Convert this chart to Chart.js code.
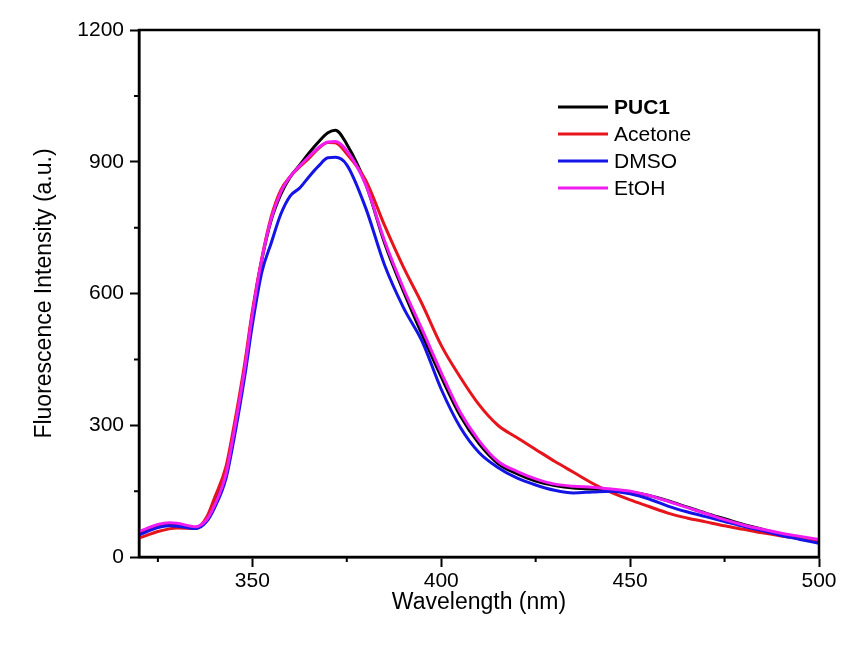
<!DOCTYPE html>
<html>
<head>
<meta charset="utf-8">
<script src="https://cdn.jsdelivr.net/npm/chart.js@4"></script>
<style>
  body { margin: 0; background: #fff; }
  #wrap { width: 847px; height: 651px; }
</style>
</head>
<body>
<div id="wrap"><canvas id="myChart" width="847" height="651"></canvas></div>
<script>
// wavelength (nm) shared by all spectra
const wavelength = [320, 325, 328, 330, 335, 338, 340, 343, 345, 348, 350, 352.5, 355, 357.5, 360, 362.5, 365, 367.5, 370, 372, 375, 380, 385, 390, 395, 400, 405, 410, 415, 420, 425, 430, 435, 440, 445, 450, 455, 460, 465, 470, 475, 480, 485, 490, 495, 500];

const puc1 = [55, 70, 75, 74, 66, 88, 122, 191, 280, 432, 552, 676, 767, 825, 865, 892, 920, 945, 966, 972, 940, 850, 715, 605, 505, 410, 322, 258, 213, 190, 173, 163, 157, 155, 152, 148, 140, 128, 114, 100, 87, 74, 63, 53, 44, 35];
const acetone = [43, 58, 64, 66, 65, 92, 135, 205, 292, 442, 560, 680, 775, 835, 866, 888, 908, 930, 944, 943, 918, 858, 755, 660, 575, 482, 410, 347, 300, 272, 245, 218, 193, 168, 147, 130, 115, 100, 89, 80, 71, 63, 55, 48, 42, 35];
const dmso = [50, 67, 71, 70, 65, 82, 112, 178, 262, 412, 528, 648, 715, 780, 822, 840, 866, 890, 909, 910, 893, 795, 665, 568, 490, 382, 296, 238, 204, 180, 164, 152, 146, 148, 150, 144, 132, 116, 103, 92, 81, 70, 60, 49, 40, 31];
const etoh = [58, 74, 78, 77, 69, 86, 118, 188, 278, 430, 552, 678, 770, 830, 866, 890, 912, 932, 945, 946, 925, 848, 720, 612, 517, 420, 330, 265, 218, 195, 178, 166, 161, 159, 155, 150, 140, 127, 113, 99, 85, 73, 63, 54, 47, 40];

const seriesNames = ["PUC1", "Acetone", "DMSO", "EtOH"];
const seriesColors = ["#000000", "#e8141c", "#1414e6", "#f01cf0"];

// minor tick values
const xMinor = [325, 375, 425, 475];
const yMinor = [150, 450, 750, 1050];

const toPoints = (vals) => vals.map((v, i) => ({ x: wavelength[i], y: v }));

const FONT = "'Liberation Sans', Arial, sans-serif";

// box frame, minor ticks and the in-plot legend
const framePlugin = {
  id: "frame",
  afterDatasetsDraw(chart) {
    const { ctx, chartArea: a, scales } = chart;
    ctx.save();
    ctx.strokeStyle = "#000";
    ctx.lineWidth = 2.5;
    ctx.strokeRect(a.left, a.top, a.right - a.left, a.bottom - a.top);

    ctx.lineWidth = 2;
    ctx.beginPath();
    xMinor.forEach((v) => {
      const px = scales.x.getPixelForValue(v);
      ctx.moveTo(px, a.bottom);
      ctx.lineTo(px, a.bottom + 5);
    });
    yMinor.forEach((v) => {
      const py = scales.y.getPixelForValue(v);
      ctx.moveTo(a.left, py);
      ctx.lineTo(a.left - 5, py);
    });
    ctx.stroke();

    // legend
    const lx = a.left + 419;
    let ly = a.top + 77;
    ctx.textBaseline = "middle";
    chart.data.datasets.forEach((ds, i) => {
      ctx.strokeStyle = ds.borderColor;
      ctx.lineWidth = 3;
      ctx.beginPath();
      ctx.moveTo(lx, ly);
      ctx.lineTo(lx + 50, ly);
      ctx.stroke();
      ctx.fillStyle = "#000";
      ctx.font = (i === 0 ? "bold " : "") + "21px " + FONT;
      ctx.fillText(ds.label, lx + 56, ly + 1);
      ly += 27;
    });
    ctx.restore();
  },
};

new Chart("myChart", {
  type: "line",
  data: {
    datasets: seriesNames.map((name, i) => ({
      label: name,
      data: toPoints([puc1, acetone, dmso, etoh][i]),
      borderColor: seriesColors[i],
      backgroundColor: seriesColors[i],
      borderWidth: 3,
      pointRadius: 0,
      cubicInterpolationMode: "monotone",
      fill: false,
      order: 4 - i,
    })),
  },
  options: {
    responsive: false,
    animation: false,
    layout: { padding: { top: 30, right: 28, bottom: 0, left: 0 } },
    plugins: { legend: { display: false }, tooltip: { enabled: false } },
    scales: {
      x: {
        type: "linear",
        min: 320,
        max: 500,
        afterFit: (s) => { s.height = 94; },
        afterBuildTicks: (s) => { s.ticks = s.ticks.filter((t) => t.value % 50 === 0); },
        ticks: { stepSize: 50, color: "#000", font: { family: FONT, size: 21 }, padding: 2, maxRotation: 0, callback: (v) => String(v) },
        grid: { drawOnChartArea: false, tickLength: 10, tickWidth: 2, tickColor: "#000" },
        border: { color: "#000", width: 2.5 },
        title: { display: true, text: "Wavelength (nm)", color: "#000", font: { family: FONT, size: 23 }, padding: { top: 0, bottom: 35 } },
      },
      y: {
        min: 0,
        max: 1200,
        afterFit: (s) => { s.width = 139; },
        ticks: { stepSize: 300, color: "#000", font: { family: FONT, size: 21 }, padding: 6, callback: (v) => String(v) },
        grid: { drawOnChartArea: false, tickLength: 9, tickWidth: 2, tickColor: "#000" },
        border: { color: "#000", width: 2.5 },
        title: { display: true, text: "Fluorescence Intensity (a.u.)", color: "#000", font: { family: FONT, size: 23 }, padding: { top: 31, bottom: 0 } },
      },
    },
  },
  plugins: [framePlugin],
});
</script>
</body>
</html>
